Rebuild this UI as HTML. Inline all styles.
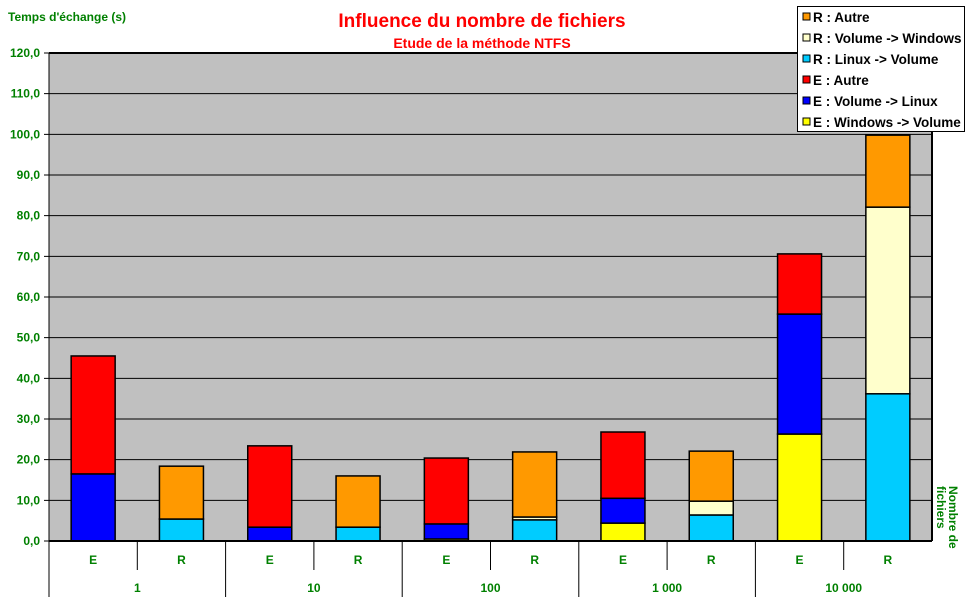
<!DOCTYPE html>
<html><head><meta charset="utf-8"><style>
body{margin:0;background:#fff;width:970px;height:604px;overflow:hidden;font-family:"Liberation Sans",Arial,sans-serif}
svg text{font-family:"Liberation Sans",Arial,sans-serif}
</style></head><body>
<svg id="chart" width="970" height="604" xmlns="http://www.w3.org/2000/svg">
<text x="8" y="21" font-size="12" font-weight="bold" fill="#008000">Temps d'échange (s)</text>
<text x="482" y="27" font-size="19" font-weight="bold" fill="#ff0000" text-anchor="middle">Influence du nombre de fichiers</text>
<text x="482" y="48" font-size="14" font-weight="bold" fill="#ff0000" text-anchor="middle">Etude de la méthode NTFS</text>
<g id="plot"></g>
<text transform="translate(949,486) rotate(90)" font-size="12" font-weight="bold" fill="#008000"><tspan x="0" y="0">Nombre de</tspan><tspan x="0" y="12">fichiers</tspan></text>
<g id="legend"></g>
</svg>
<script>
const groups = ["1","10","100","1 000","10 000"];
const barLabels = ["E","R","E","R","E","R","E","R","E","R"];
const yTicks = [0,10,20,30,40,50,60,70,80,90,100,110,120];
const seriesNames = ["E : Windows -> Volume","E : Volume -> Linux","E : Autre","R : Linux -> Volume","R : Volume -> Windows","R : Autre"];
const seriesColors = ["#ffff00","#0000ff","#ff0000","#00ccff","#ffffcc","#ff9900"];
const eWinVol = [0,0,0,0,0.5,0,4.4,0,26.3,0];
const eVolLin = [16.5,0,3.4,0,3.7,0,6.1,0,29.5,0];
const eAutre = [29.0,0,20.0,0,16.2,0,16.3,0,14.8,0];
const rLinVol = [0,5.4,0,3.4,0,5.2,0,6.4,0,36.2];
const rVolWin = [0,0,0,0,0,0.7,0,3.4,0,45.9];
const rAutre = [0,13.0,0,12.6,0,16.0,0,12.3,0,17.7];
const series = [eWinVol,eVolLin,eAutre,rLinVol,rVolWin,rAutre];

const NS="http://www.w3.org/2000/svg";
const X0=49,X1=932,Y0=541,Y1=53,YMAX=120;
const yS=v=>Y0-(v/YMAX)*(Y0-Y1);
const slot=(X1-X0)/barLabels.length;
const xS=i=>X0+slot*i;
function mk(tag,attrs,parent){const e=document.createElementNS(NS,tag);for(const k in attrs)e.setAttribute(k,attrs[k]);parent.appendChild(e);return e;}
const plot=document.getElementById('plot');
const bg=mk('rect',{x:X0,y:Y1,width:X1-X0,height:Y0-Y1,fill:'#c0c0c0'},plot);


yTicks.forEach(t=>{
  const y=yS(t);
  const l=mk('line',{x1:X0-5,x2:X1,y1:y,y2:y,stroke:'#000','stroke-width':1},plot);
  
  
  const tx=mk('text',{x:40,y:y+4,'font-size':12,'font-weight':'bold',fill:'#008000','text-anchor':'end'},plot);
  tx.textContent=t.toFixed(1).replace('.',',');
  
  
});
barLabels.forEach((lab,i)=>{
  let acc=0;
  const bx=xS(i)+slot/2-22;
  series.forEach((s,k)=>{
    const v=s[i]; if(!v) return;
    const r=mk('rect',{x:bx,y:yS(acc+v),width:44,height:yS(acc)-yS(acc+v),fill:seriesColors[k],stroke:'#000','stroke-width':1.5},plot);
    
    
    acc+=v;
  });
  const tx=mk('text',{x:xS(i)+slot/2,y:564,'font-size':12,'font-weight':'bold',fill:'#008000','text-anchor':'middle'},plot);
  tx.textContent=lab;
  
  
  const full=i%2===0;
  const l=mk('line',{x1:xS(i),x2:xS(i),y1:Y0,y2:full?597:570,stroke:'#000','stroke-width':1},plot);
  
  
});
groups.forEach((g,j)=>{
  const tx=mk('text',{x:xS(2*j)+slot,y:592,'font-size':12,'font-weight':'bold',fill:'#008000','text-anchor':'middle'},plot);
  tx.textContent=g;
  
  
});
const ax=mk('line',{x1:X0,x2:X0,y1:Y1,y2:597,stroke:'#000','stroke-width':1},plot);


const xa=mk('line',{x1:X0,x2:X1,y1:Y0,y2:Y0,stroke:'#000','stroke-width':2},plot);


const tb=mk('polyline',{points:`${X0},${Y1} ${X1},${Y1} ${X1},${Y0}`,fill:'none',stroke:'#000','stroke-width':2},plot);


const lg=document.getElementById('legend');
const lb=mk('rect',{x:797.5,y:6.5,width:167,height:125,fill:'#fff',stroke:'#000','stroke-width':1},lg);


for(let n=0;n<6;n++){
  const k=5-n, y=17+n*21;
  const sw=mk('rect',{x:803,y:y-4,width:7,height:7,fill:seriesColors[k],stroke:'#000','stroke-width':1},lg);
  
  
  const t=mk('text',{x:813,y:y+5,'font-size':13.5,'font-weight':'bold',fill:'#000'},lg);
  t.textContent=seriesNames[k];
  
  
}
</script>
</body></html>
